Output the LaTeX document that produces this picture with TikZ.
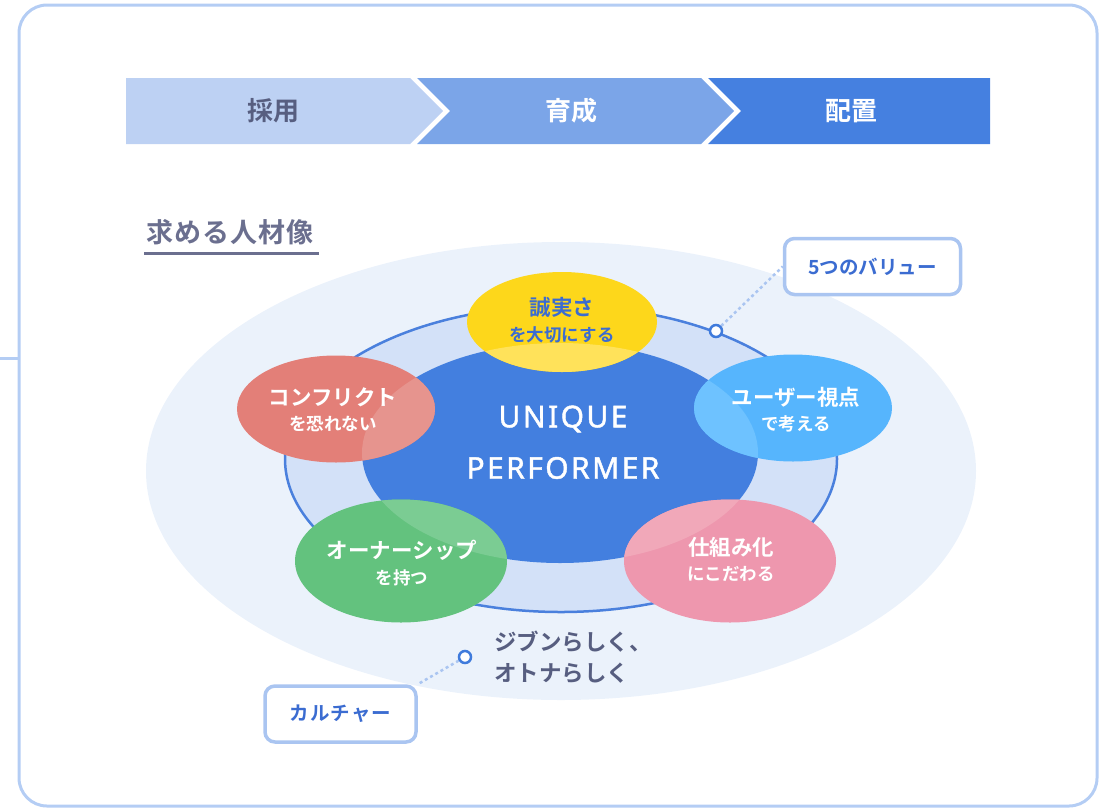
\documentclass[tikz,border=0pt]{standalone}
\usepackage{fontspec}
\setmainfont{Noto Sans CJK JP}[BoldFont={Noto Sans CJK JP Bold}]
\newfontfamily\latinf{Noto Sans}[LetterSpace=8, FakeBold=1.4]
\usetikzlibrary{shapes.geometric}
\pgfdeclarelayer{front}
\pgfsetlayers{main,front}
\definecolor{frameC}{HTML}{B4CDF4}
\definecolor{chevA}{HTML}{BDD1F3}
\definecolor{chevB}{HTML}{7BA5E8}
\definecolor{chevC}{HTML}{4580E0}
\definecolor{greyT}{HTML}{575E80}
\definecolor{titleC}{HTML}{6B6F8F}
\definecolor{bgE}{HTML}{EBF2FB}
\definecolor{ringF}{HTML}{D3E1F8}
\definecolor{ringD}{HTML}{4A80DD}
\definecolor{coreC}{HTML}{437FDF}
\definecolor{yelC}{HTML}{FDD71B}
\definecolor{yelL}{HTML}{FFE25A}
\definecolor{redC}{HTML}{E37F78}
\definecolor{redL}{HTML}{E6948E}
\definecolor{skyC}{HTML}{56B5FD}
\definecolor{skyL}{HTML}{6EC2FF}
\definecolor{grnC}{HTML}{63C27E}
\definecolor{grnL}{HTML}{7BCC93}
\definecolor{pnkC}{HTML}{EE97AE}
\definecolor{pnkL}{HTML}{F1A8B9}
\definecolor{boxD}{HTML}{AAC5F1}
\definecolor{boxT}{HTML}{3B6CD1}
\definecolor{dotC}{HTML}{3F7BDC}
\begin{document}
\begin{tikzpicture}[x=1pt,y=-1pt,
  oval/.style={ellipse, inner sep=0pt, outer sep=0pt},
  big/.style={font=\fontsize{21.5}{24}\selectfont\bfseries, text=white, inner sep=0pt},
  small/.style={font=\fontsize{17.5}{20}\selectfont\bfseries, text=white, inner sep=0pt},
  tagbox/.style={draw=boxD, line width=3.5pt, fill=white, rounded corners=10pt, inner sep=0pt,
     font=\fontsize{19.5}{22}\selectfont\bfseries, text=boxT},
  dotline/.style={draw=boxD, line width=2.5pt, dash pattern=on 3pt off 3pt},
  ringdot/.style={circle, draw=dotC, line width=2.5pt, fill=white, minimum size=12pt, inner sep=0pt},
  chevtext/.style={font=\fontsize{26}{28}\selectfont\bfseries, inner sep=0pt}]
\useasboundingbox (0,0) rectangle (1107,809);
% outer frame
\draw[frameC, line width=3pt, rounded corners=28pt] (19,5) rectangle (1097,806);
\coordinate (stubA) at (0,358);
\coordinate (stubB) at (19,358);
\draw[frameC, line width=3pt] (stubA) -- (stubB);
% chevrons
\fill[chevA] (126,78) -- (410,78) -- (443,111) -- (410,144) -- (126,144) -- cycle;
\fill[chevB] (417,78) -- (701,78) -- (734,111) -- (701,144) -- (417,144) -- (450,111) -- cycle;
\fill[chevC] (708,78) -- (990,78) -- (990,144) -- (708,144) -- (741,111) -- cycle;
\node[chevtext, text=greyT] (c1) at (273,111) {採用};
\node[chevtext, text=white] (c2) at (571,111) {育成};
\node[chevtext, text=white] (c3) at (851,111) {配置};
% title
\node[anchor=west, inner sep=0pt, font=\fontsize{27}{29}\selectfont\bfseries\addfontfeature{LetterSpace=4}, text=titleC] (title) at (146,232) {求める人材像};
\coordinate (ulA) at (144,253);
\coordinate (ulB) at (319,253);
\draw[titleC, line width=3pt] (ulA) -- (ulB);
% background ellipses
\node[oval, fill=bgE, minimum width=830pt, minimum height=458pt] (bg) at (561,471) {};
\node[oval, fill=ringF, draw=ringD, line width=2.5pt, minimum width=552pt, minimum height=306pt] (ring) at (561,459) {};
\node[oval, fill=coreC, minimum width=396pt, minimum height=220pt] (core) at (560,453) {};
% value ellipses
\node[oval, fill=yelC, minimum width=190pt, minimum height=100pt] (vY) at (562,322) {};
\node[oval, fill=redC, minimum width=198pt, minimum height=107pt] (vR) at (336,409) {};
\node[oval, fill=skyC, minimum width=198pt, minimum height=107pt] (vS) at (793,408) {};
\node[oval, fill=grnC, minimum width=212pt, minimum height=123pt] (vG) at (401,561) {};
\node[oval, fill=pnkC, minimum width=212pt, minimum height=123pt] (vP) at (730,561) {};
\begin{scope}
  \clip (560,453) ellipse [x radius=198, y radius=110];
  \fill[yelL] (562,322) ellipse [x radius=95, y radius=50];
  \fill[redL] (336,409) ellipse [x radius=99, y radius=53.5];
  \fill[skyL] (793,408) ellipse [x radius=99, y radius=53.5];
  \fill[grnL] (401,561) ellipse [x radius=106, y radius=61.5];
  \fill[pnkL] (730,561) ellipse [x radius=106, y radius=61.5];
\end{scope}
% core text
\node[inner sep=0pt, text=white, font=\latinf\fontsize{30}{32}\selectfont] (uq1) at (563,419) {UNIQUE};
\node[inner sep=0pt, text=white, font=\latinf\fontsize{30}{32}\selectfont] (uq2) at (563,468) {PERFORMER};
% value texts
\node[big, text=boxT] (yT1) at (562,307) {誠実さ};
\node[small, text=boxT] (yT2) at (562,335) {を大切にする};
\node[big] (rT1) at (333,397) {コンフリクト};
\node[small] (rT2) at (333,424) {を恐れない};
\node[big] (sT1) at (796,397) {ユーザー視点};
\node[small] (sT2) at (796,424) {で考える};
\node[big] (gT1) at (402,550) {オーナーシップ};
\node[small] (gT2) at (402,578) {を持つ};
\node[big] (pT1) at (731,547) {仕組み化};
\node[small] (pT2) at (731,574) {にこだわる};
% tags and ring dots (front layer)
\begin{pgfonlayer}{front}
\node[tagbox, minimum width=176pt, minimum height=56pt] (tagV) at (872.5,266.5) {5つのバリュー};
\node[tagbox, minimum width=151pt, minimum height=56pt] (tagC) at (340.5,714) {\addfontfeature{LetterSpace=6}カルチャー};
\node[ringdot] (dV) at (716,331) {};
\node[ringdot] (dC) at (465,657) {};
\end{pgfonlayer}
\path[dotline] (dV) -- (tagV.west);
\path[dotline] (dC) -- (tagC.north east);
% culture text
\node[anchor=west, inner sep=0pt, font=\fontsize{22.5}{24}\selectfont\bfseries, text=greyT] (cu1) at (494,642) {ジブンらしく、};
\node[anchor=west, inner sep=0pt, font=\fontsize{22.5}{24}\selectfont\bfseries, text=greyT] (cu2) at (494,673) {オトナらしく};
\end{tikzpicture}
\end{document}
